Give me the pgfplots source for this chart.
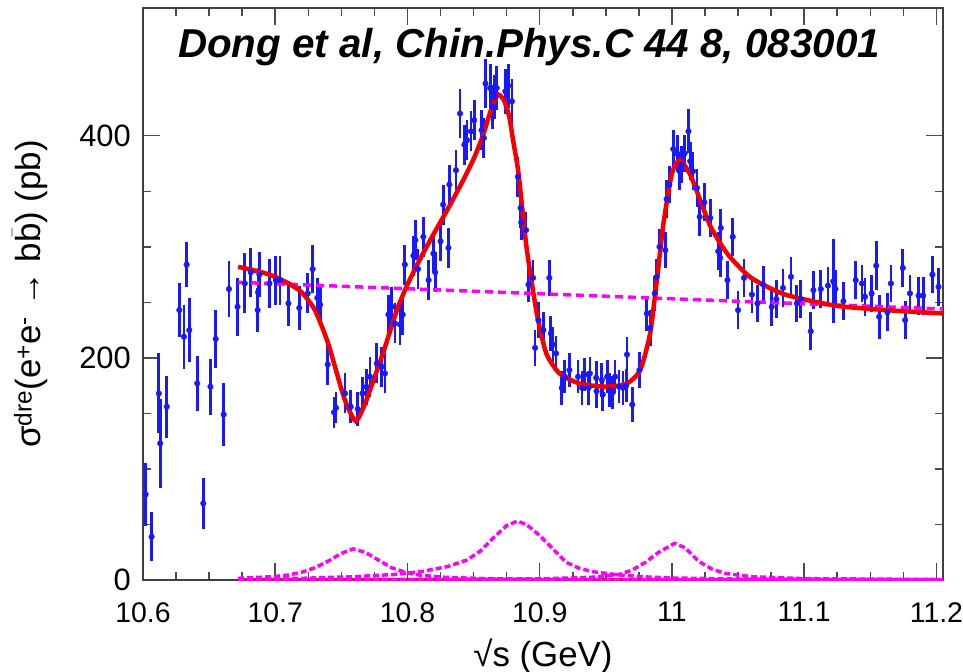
\documentclass[border=0pt]{standalone}
\usepackage{fontspec}
\setmainfont{Liberation Sans}
\usepackage{pgfplots}
\usepackage{pgfplotstable}
\pgfplotsset{compat=1.18}
\definecolor{dblue}{RGB}{25,25,255}
\definecolor{fitred}{RGB}{245,0,0}
\definecolor{mag}{RGB}{255,0,255}
\definecolor{deepmag}{RGB}{200,20,110}

\pgfplotstableread{
x y e
10.602 77 28
10.6065 39 22
10.612 168 36
10.613 123 40
10.618 156 28
10.6275 243 24
10.631 219 29
10.633 284 20
10.635 225 29
10.641 177 25
10.6456 69 23
10.651 174 25
10.655 217 26
10.661 149 28
10.665 262 25
10.6715 246 26
10.677 267 27
10.6815 277 22
10.6867 243 20
10.687 259 22
10.688 275 20
10.6956 267 22
10.7004 270 22
10.7036 270 22
10.71 249 20
10.7182 245 20
10.7246 258 18
10.7283 280 22
10.7318 254 18
10.734 248 18
10.7397 194 18
10.7445 151 14
10.746 155 14
10.7528 168 18
10.7571 156 15
10.7624 154 15
10.766 168 15
10.769 174 16
10.7717 183 18
10.7768 195 18
10.7805 192 18
10.783 186 18
10.7856 239 18
10.788 246 18
10.7906 231 18
10.7944 230 18
10.7964 239 18
10.798 284 18
10.8045 292 18
10.806 306 18
10.808 280 18
10.812 309 18
10.816 270 18
10.8196 294 18
10.821 277 18
10.825 305 18
10.827 338 18
10.831 299 18
10.8317 356 18
10.8367 369 18
10.8398 420 22
10.843 392 18
10.845 396 18
10.848 404 18
10.8504 414 18
10.856 405 18
10.8578 398 18
10.859 447 22
10.8625 443 22
10.8645 426 20
10.866 435 20
10.8675 443 20
10.874 440 20
10.8763 445 20
10.879 431 20
10.8835 363 18
10.8855 335 18
10.886 322 16
10.8897 315 16
10.8915 266 16
10.895 272 16
10.8965 209 16
10.899 234 16
10.9028 225 16
10.9073 272 16
10.9084 222 16
10.910 212 16
10.9124 204 16
10.9167 173 15
10.919 183 15
10.9225 189 15
10.929 183 15
10.932 173 15
10.934 185 15
10.937 173 15
10.938 186 15
10.9427 182 15
10.943 170 15
10.947 180 15
10.9477 167 15
10.951 183 15
10.9527 171 15
10.9553 169 15
10.957 183 15
10.960 174 15
10.963 173 15
10.9654 175 15
10.966 203 16
10.970 158 16
10.9754 189 16
10.981 240 16
10.9835 227 16
10.987 258 16
10.9885 273 16
10.9906 300 16
10.995 297 16
10.996 343 17
10.998 356 17
11.001 388 17
11.004 384 17
11.0057 368 17
11.0075 374 17
11.0095 384 17
11.0125 404 20
11.0138 377 17
11.016 368 17
11.019 353 17
11.021 327 17
11.0245 340 17
11.029 326 17
11.035 296 17
11.0365 290 17
11.037 317 17
11.042 270 17
11.046 309 17
11.050 243 17
11.0545 272 17
11.0605 257 17
11.0647 249 17
11.069 266 17
11.0755 246 17
11.079 253 17
11.084 263 17
11.09 273 18
11.0945 249 17
11.0975 253 17
11.105 224 17
11.107 261 17
11.1126 262 17
11.118 265 17
11.122 269 38
11.1237 262 17
11.1297 251 17
11.139 270 17
11.1437 267 17
11.146 255 17
11.151 258 17
11.1545 283 22
11.1567 237 20
11.163 241 17
11.1656 267 17
11.1746 281 17
11.1764 234 17
11.180 258 17
11.1865 256 17
11.19 256 17
11.197 275 17
11.2016 264 17
}\datatab

\pgfplotstableread{
x y
10.672 282
10.69 277
10.70 273
10.71 267
10.72 259
10.73 243
10.74 213
10.75 172
10.755 155
10.761 143
10.767 156
10.772 172
10.782 206
10.792 243
10.80 266
10.81 290
10.82 312
10.83 333
10.84 355
10.85 379
10.857 400
10.862 419
10.866 432
10.869 437
10.873 432
10.877 417
10.880 395
10.884 366
10.890 300
10.8978 240
10.905 204
10.915 186
10.93 177
10.95 174
10.966 177
10.976 189
10.9835 222
10.9886 270
10.9936 321
11.000 366
11.006 378
11.0138 365
11.0214 342
11.0297 317
11.0424 293
11.06 272
11.0856 257
11.124 247
11.162 243
11.205 240
}\fittab

\pgfplotstableread{
x y
10.672 1.5
10.69 2.5
10.70 3.2
10.71 4.5
10.72 7
10.73 11
10.74 17
10.75 24
10.759 28
10.768 25
10.778 18
10.788 11
10.80 6.5
10.81 4.2
10.83 2.3
10.86 1.2
10.90 0.6
10.95 0.3
11.05 0.15
11.205 0.05
}\peakA

\pgfplotstableread{
x y
10.672 0.8
10.72 1.5
10.76 3
10.79 5
10.81 7.5
10.83 12
10.845 18
10.855 26
10.865 38
10.875 49
10.883 53
10.89 50
10.90 40
10.91 28
10.92 16
10.93 10.5
10.94 7.5
10.96 4.5
10.98 2.8
11.00 1.8
11.05 0.9
11.205 0.3
}\peakB

\pgfplotstableread{
x y
10.672 0.3
10.80 0.5
10.90 1
10.94 2.5
10.96 5
10.97 9
10.98 16
10.99 25
11.002 33
11.01 29
11.02 17
11.03 10
11.04 6
11.06 3
11.10 1.2
11.205 0.4
}\peakC

\begin{document}
\begin{tikzpicture}
\begin{axis}[
  scale only axis, width=800bp, height=572bp,
  xmin=10.6, xmax=11.205, ymin=0, ymax=515,
  xtick={10.6,10.7,10.8,10.9,11,11.1,11.2},
  ytick={0,200,400},
  minor x tick num=3, minor y tick num=3,
  tick align=inside, tick pos=both,
  major tick length=17bp, minor tick length=8bp,
  every tick/.style={black!70, line width=1.5bp},
  axis line style={black!75, line width=2bp},
  xticklabel style={font=\fontsize{28.5}{33}\selectfont, inner sep=1bp, yshift=-21bp},
  yticklabel style={font=\fontsize{31}{36}\selectfont, inner sep=1bp, xshift=-11bp},
  /pgf/number format/assume math mode=true,
  xlabel={√s (GeV)},
  ylabel={σ\textsuperscript{dre}(e\textsuperscript{+}e\textsuperscript{-} → b$\bar{\mbox{b}}$) (pb)},
  xlabel style={font=\fontsize{35}{40}\selectfont, at={(axis description cs:0.5,-0.1329)}, anchor=center},
  ylabel style={font=\fontsize{35}{40}\selectfont, at={(axis description cs:-0.1412,0.5)}, anchor=center},
]
\addplot[only marks, mark=*, mark size=2.8bp, color=dblue,
  error bars/.cd, y dir=both, y explicit,
  error bar style={line width=2.8bp, dblue}, error mark=none]
  table[x=x, y=y, y error=e] {\datatab};
\addplot[deepmag, line width=2.5bp] coordinates {(10.672,0.6) (11.205,0.6)};
\addplot[mag, line width=3.5bp, dash pattern=on 6bp off 3bp] table[x=x,y=y] {\peakA};
\addplot[mag, line width=3.5bp, dash pattern=on 6bp off 3bp] table[x=x,y=y] {\peakB};
\addplot[mag, line width=3.5bp, dash pattern=on 6bp off 3bp] table[x=x,y=y] {\peakC};
\addplot[mag, line width=3.5bp, dash pattern=on 8bp off 5bp] coordinates {(10.672,268) (11.205,244)};
\addplot[fitred, line width=4.5bp, smooth, tension=0.4] table[x=x,y=y] {\fittab};
\end{axis}
\node[anchor=base, font=\fontsize{40.5}{44}\selectfont\bfseries\itshape] at (386bp,522bp) {Dong et al, Chin.Phys.C 44 8, 083001};
\pgfresetboundingbox
\path[use as bounding box] (-143bp,-92bp) rectangle (820bp,580bp);
\end{tikzpicture}
\end{document}
